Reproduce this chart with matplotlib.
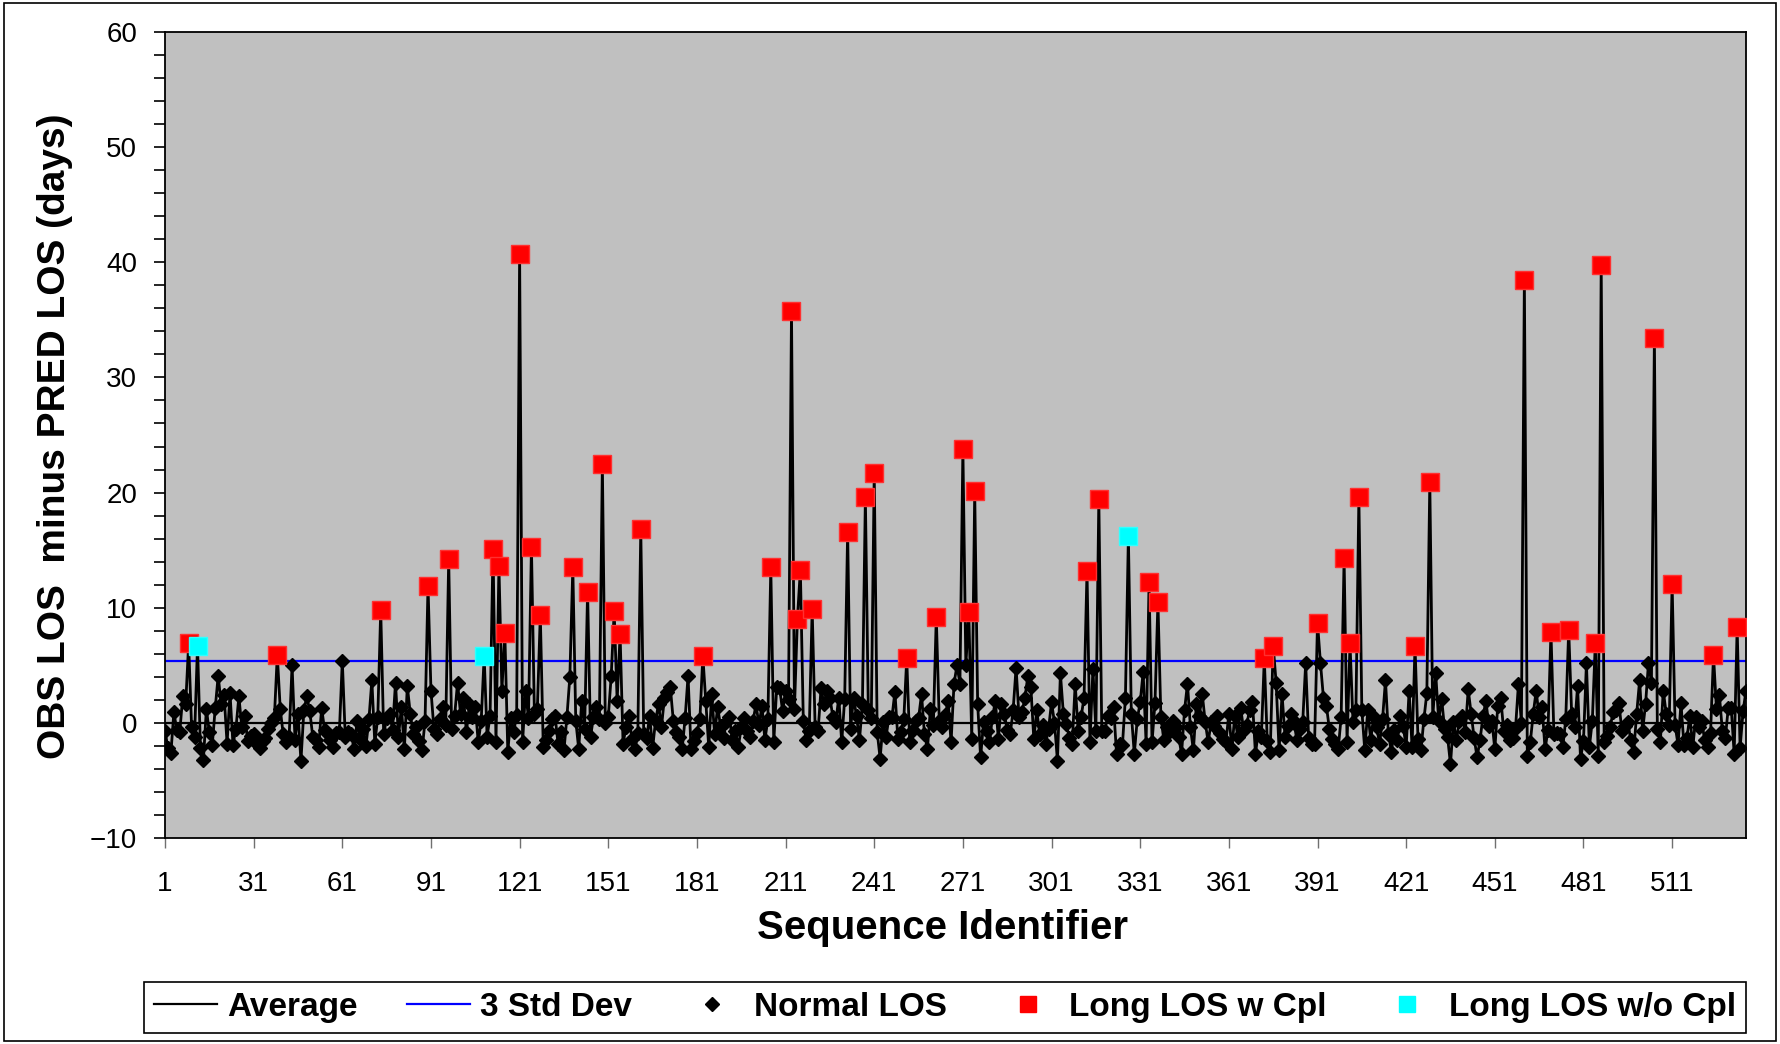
import numpy as np
import matplotlib.pyplot as plt
from matplotlib.lines import Line2D
from matplotlib.patches import Rectangle

plt.rcParams['font.family'] = ['Liberation Sans', 'DejaVu Sans']

# OBS LOS minus PRED LOS (days), sequence 1..536
los_diff = [
    -0.7, -2.2, -2.6, 0.9, -0.6, -0.8, 2.3, 1.6, 6.9, -0.4,
    -1.2, 6.7, -2.2, -3.2, 1.2, -0.8, -1.9, 1.3, 4.1, 1.6,
    2.4, -1.8, 2.6, -1.9, -0.5, 2.3, -0.4, 0.6, -1.6, -1.1,
    -1.0, -1.8, -2.2, -1.6, -1.3, -0.5, 0.0, 0.4, 5.9, 1.2,
    -1.0, -1.7, -1.2, 5.0, -1.5, 0.8, -3.3, 1.1, 2.3, 1.0,
    -1.2, -1.5, -2.1, 1.3, -0.6, -1.0, -1.5, -2.1, -0.9, -0.8,
    5.4, -1.2, -0.8, -1.0, -2.3, 0.2, -1.4, -0.5, -2.0, 0.3,
    3.7, -1.8, 0.5, 9.8, -1.0, 0.4, 0.8, -0.6, 3.5, -1.2,
    1.4, -2.3, 3.2, 0.8, -1.0, -0.4, -1.6, -2.4, 0.2, 11.9,
    2.8, -0.5, -1.0, 0.3, 1.4, -0.2, 14.2, -0.5, 0.6, 3.5,
    0.8, 2.2, -0.8, 1.6, 0.5, 1.4, -1.7, 0.2, 5.8, -1.2,
    0.6, 15.1, -1.7, 13.6, 2.8, 7.8, -2.5, 0.4, -0.8, 0.7,
    40.7, -1.7, 2.8, 0.4, 15.3, 0.8, 1.2, 9.4, -2.1, -1.5,
    -0.7, 0.3, 0.6, -1.8, -0.8, -2.4, 0.5, 4.0, 13.5, 0.2,
    -2.3, 1.9, -0.5, 11.4, -1.2, 0.5, 1.4, 0.3, 22.5, 0.0,
    0.5, 4.1, 9.7, 1.9, 7.7, -1.8, -0.4, 0.6, -1.4, -2.3,
    -0.9, 16.8, -1.0, -1.3, 0.6, -2.2, 0.2, 1.6, -0.4, 2.2,
    2.7, 3.1, 0.2, -0.8, -1.2, -2.3, 0.4, 4.1, -2.3, -1.6,
    -0.9, 0.3, 5.8, 1.9, -2.1, 2.5, -1.0, 1.4, -0.3, -1.3,
    0.1, 0.5, -1.5, -0.7, -2.1, -0.4, 0.4, -0.7, -1.2, 0.2,
    1.6, -0.2, 1.5, -1.5, 0.3, 13.5, -1.7, 3.1, 3.0, 1.0,
    2.8, 2.1, 35.8, 1.2, 9.0, 13.3, 0.2, -1.5, -0.7, 9.9,
    -0.4, -0.7, 3.0, 1.6, 2.8, 2.2, 0.5, 0.1, 2.2, -1.7,
    2.1, 16.6, -0.5, 2.2, 0.6, -1.5, 1.6, 19.6, 1.1, 0.4,
    21.7, -0.8, -3.1, 0.1, -1.2, 0.5, 0.5, 2.7, -1.4, -0.8,
    0.3, 5.6, -1.7, -0.6, 0.2, 0.4, 2.5, -1.0, -2.3, 1.2,
    -0.2, 9.2, 0.2, -0.4, 0.7, 1.9, -1.7, 3.4, 5.0, 3.4,
    23.8, 5.0, 9.6, -1.4, 20.1, 1.6, -3.0, 0.1, -0.7, -1.7,
    0.5, 1.9, -1.4, 1.6, 0.8, -0.6, -1.0, 1.1, 4.8, 0.5,
    0.9, 2.2, 4.1, 3.1, -1.4, 1.1, -1.0, -0.2, -1.8, -0.5,
    1.8, 0.0, -3.3, 4.3, 0.8, -0.1, -1.3, -1.8, 3.4, -0.7,
    0.5, 2.2, 13.2, -1.7, 4.7, -0.7, 19.4, -0.7, -0.7, 0.6,
    0.4, 1.4, -2.7, -1.8, -1.9, 2.2, 16.2, 0.8, -2.7, 0.3,
    1.8, 4.4, -1.8, 12.2, -1.7, 1.7, 10.5, 0.5, -1.5, -0.4,
    -0.7, 0.2, -0.4, -1.2, -2.7, 1.1, 3.4, -0.4, -2.4, 1.6,
    0.6, 2.5, 0.1, -1.7, 0.1, -0.3, 0.6, -0.9, -1.4, -1.7,
    0.8, -2.3, 0.6, -1.2, 1.3, -0.6, -0.2, 1.1, 1.8, -2.7,
    -0.7, -1.2, 5.6, -1.6, -2.5, 6.7, 3.5, -2.4, 2.5, -1.2,
    -0.3, 0.8, 0.2, -1.5, -0.5, 0.1, 5.2, -1.3, -1.8, -1.8,
    8.7, 5.2, 2.2, 1.5, -0.5, -1.4, -1.8, -2.3, 0.5, 14.3,
    -1.7, 6.9, 0.1, 1.1, 19.6, 1.1, -2.4, 1.1, -1.5, 0.5,
    -0.4, -1.8, 0.3, 3.7, -1.0, -2.5, -0.6, -1.5, 0.6, -0.3,
    -2.1, 2.8, -2.1, 6.7, -1.4, -2.4, 0.3, 2.6, 20.9, 0.5,
    4.3, 0.2, 2.1, -0.5, -1.2, -3.6, 0.1, -1.5, 0.2, 0.6,
    -0.8, 2.9, 0.8, -1.3, -3.0, -1.5, 0.6, 1.9, -0.3, 0.2,
    -2.3, 1.5, 2.2, -0.7, -0.2, -1.5, -1.3, -0.5, 3.4, 0.0,
    38.5, -2.9, -1.7, 0.8, 2.8, 0.5, 1.4, -2.3, -0.6, 7.9,
    -1.0, -0.9, -1.0, -2.1, 0.3, 8.1, 0.8, -0.4, 3.2, -3.1,
    -1.6, 5.2, -2.1, 0.2, 6.9, -2.9, 39.8, -1.7, -1.1, -0.4,
    0.9, 1.1, 1.7, -0.7, -0.3, 0.1, -1.5, -2.5, 0.8, 3.7,
    -0.7, 1.6, 5.2, 3.5, 33.4, -0.5, -1.7, 2.8, 0.8, -0.2,
    12.1, -0.2, -1.9, 1.7, -1.9, -1.3, 0.6, -2.1, 0.5, -0.4,
    0.2, -1.5, -2.1, -0.9, 5.9, 1.2, 2.4, -0.7, -1.3, 1.3,
    1.3, -2.7, 8.3, -2.2, 1.0, 2.8,
]

# sequences flagged as long LOS
long_cpl_ids = [9, 39, 74, 90, 97, 112, 114, 116, 121, 125, 128, 139, 144,
                149, 153, 155, 162, 183, 206, 213, 215, 216, 220, 232, 238,
                241, 252, 262, 271, 273, 275, 313, 317, 334, 337, 373, 376,
                391, 400, 402, 405, 424, 429, 461, 470, 476, 485, 487, 505,
                511, 525, 533]
long_nocpl_ids = [12, 109, 327]

average = 0.0
std3 = 5.33

x_tick_labels = [1, 31, 61, 91, 121, 151, 181, 211, 241, 271, 301, 331,
                 361, 391, 421, 451, 481, 511]
y_ticks = [-10, 0, 10, 20, 30, 40, 50, 60]

seq = np.arange(1, len(los_diff) + 1)
vals = np.array(los_diff)
cpl = np.array(long_cpl_ids)
nocpl = np.array(long_nocpl_ids)

fig = plt.figure(figsize=(17.81, 10.44), dpi=100)
ax = fig.add_axes([165 / 1781, 1 - 838 / 1044, 1581 / 1781, 806 / 1044])
ax.set_facecolor('#C0C0C0')

ax.axhline(average, color='black', lw=1.6, zorder=2)
ax.axhline(std3, color='#0000FF', lw=1.6, zorder=2)

ax.plot(seq, vals, color='black', lw=2.0, zorder=3)
ax.plot(seq, vals, 'D', color='black', ms=7.0, zorder=4)
ax.plot(cpl, vals[cpl - 1], 's', color='#FF0000', mec='#FF3030',
        ms=12.5, zorder=5)
ax.plot(nocpl, vals[nocpl - 1], 's', color='#00FFFF', mec='#30FFFF',
        ms=12.5, zorder=5)

ax.set_xlim(1, len(los_diff))
ax.set_ylim(-10, 60)
ax.set_xticks(x_tick_labels)
ax.set_xticklabels([str(t) for t in x_tick_labels])
ax.set_yticks(y_ticks)
ax.set_yticks(np.arange(-10, 61, 2), minor=True)
ax.tick_params(axis='both', labelsize=20, direction='out', width=1.2)
ax.tick_params(axis='y', which='both', length=8, pad=12, color='black')
ax.tick_params(axis='y', which='minor', width=1.2)
ax.tick_params(axis='x', length=7, pad=17, color='#707070', width=1.0)
for s in ax.spines.values():
    s.set_linewidth(1.3)

fig.text(943 / 1781, 1 - 928 / 1044, 'Sequence Identifier',
         ha='center', va='center', fontsize=29, fontweight='bold')
fig.text(55 / 1781, 1 - 436 / 1044, 'OBS LOS  minus PRED LOS (days)',
         ha='center', va='center', rotation=90, fontsize=28,
         fontweight='bold')

handles = [
    Line2D([], [], color='black', lw=1.6),
    Line2D([], [], color='#0000FF', lw=1.6),
    Line2D([], [], ls='none', marker='D', color='black', ms=7),
    Line2D([], [], ls='none', marker='s', color='#FF0000', ms=11),
    Line2D([], [], ls='none', marker='s', color='#00FFFF', ms=11),
]
labels = ['Average', '3 Std Dev', 'Normal LOS', 'Long LOS w Cpl',
          'Long LOS w/o Cpl']
leg = fig.legend(handles, labels, loc='center', ncol=5, mode='expand',
                 bbox_to_anchor=(144 / 1781, 8 / 1044, 1602 / 1781,
                                 57 / 1044),
                 prop={'size': 24, 'weight': 'bold'}, fancybox=False,
                 handlelength=1.9, handletextpad=0.3, borderaxespad=0,
                 borderpad=0.3, edgecolor='black', framealpha=1)
leg.get_frame().set_linewidth(1.2)

fig.patches.append(Rectangle((0.002, 0.003), 0.995, 0.994,
                             transform=fig.transFigure, fill=False,
                             edgecolor='black', lw=1.2))

fig.savefig('out.png', dpi=100)
